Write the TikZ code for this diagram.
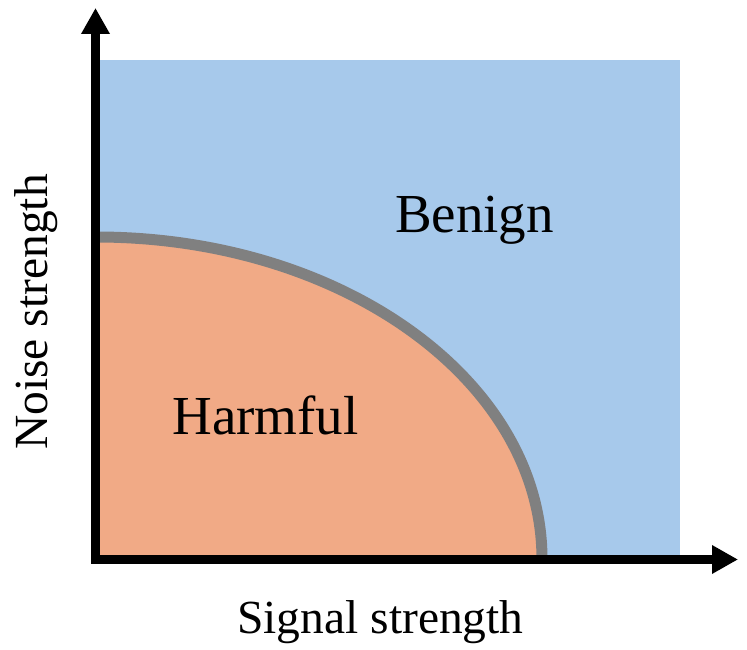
\documentclass[tikz,border=0pt]{standalone}
\usepackage{fontspec}
\setmainfont{Liberation Serif}
\usetikzlibrary{arrows.meta}
\definecolor{benignblue}{RGB}{167,201,235}
\definecolor{harmorange}{RGB}{241,170,134}
\definecolor{boundgray}{RGB}{128,128,128}
\tikzset{
  region label/.style={anchor=base, inner sep=0pt, font=\fontsize{55}{60}\selectfont},
  axis label/.style={anchor=base, inner sep=0pt, font=\fontsize{47.5}{52}\selectfont},
  axis line/.style={line width=9pt, line join=miter, {Triangle[length=26pt,width=27pt]}-{Triangle[length=26pt,width=27pt]}},
  boundary/.style={draw=boundgray, line width=11pt}
}
\begin{document}
\begin{tikzpicture}[x=1pt,y=1pt]
\useasboundingbox (0,0) rectangle (747,650);
\fill[benignblue] (95,91) rectangle (680,590);
\coordinate (O) at (95.5,90.5);
\coordinate (C) at (96,91);
\coordinate (ytip) at (95.5,642);
\coordinate (xtip) at (738,90.5);
\fill[harmorange] (C) -- ++(0,322) arc[start angle=90, end angle=0, x radius=446, y radius=322] -- cycle;
\draw[boundary] (C) ++(0,322) arc[start angle=90, end angle=0, x radius=446, y radius=322];
\draw[axis line] (ytip) -- (O) -- (xtip);
\node[region label] (benign) at (474.5,417) {Benign};
\node[region label] (harmful) at (265.5,215) {Harmful};
\node[axis label] (xlabel) at (380.5,16) {Signal strength};
\node[axis label, rotate=90] (ylabel) at (47,338) {Noise strength};
\end{tikzpicture}
\end{document}
